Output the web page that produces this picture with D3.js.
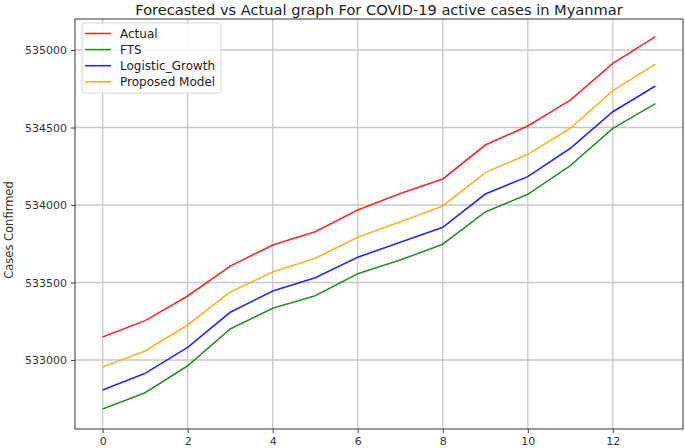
<!DOCTYPE html>
<html>
<head>
  <meta charset="utf-8">
  <script src="https://d3js.org/d3.v7.min.js"></script>
  <style>
    body { margin: 0; background: #fff; }
    text { font-family: "DejaVu Sans", sans-serif; }
  </style>
</head>
<body>
  <script>
    // data
    var days = [0, 1, 2, 3, 4, 5, 6, 7, 8, 9, 10, 11, 12, 13];
    var actual = [533148, 533254, 533413, 533606, 533742, 533828, 533968, 534075, 534168, 534387, 534510, 534677, 534914, 535086];
    var fts = [532684, 532789, 532963, 533200, 533334, 533415, 533557, 533645, 533747, 533955, 534069, 534254, 534495, 534654];
    var logistic = [532806, 532914, 533082, 533308, 533445, 533531, 533663, 533759, 533856, 534071, 534183, 534366, 534602, 534768];
    var proposed = [532955, 533058, 533226, 533439, 533568, 533656, 533792, 533892, 533994, 534209, 534327, 534495, 534738, 534908];
    var xTicks = [0, 2, 4, 6, 8, 10, 12];
    var yTicks = [533000, 533500, 534000, 534500, 535000];

    var series = [
      {name: "Actual", values: actual, color: "#ff0000"},
      {name: "FTS", values: fts, color: "#008000"},
      {name: "Logistic_Growth", values: logistic, color: "#0000ff"},
      {name: "Proposed Model", values: proposed, color: "#ffa500"}
    ];

    var w = 685, h = 448;
    // plot box (window.top is read-only, so keep these in an object)
    var box = {l: 75, r: 683, t: 19, b: 429};
    var svg = d3.select("body").append("svg").attr("width", w).attr("height", h);

    var x = d3.scaleLinear().domain([-0.65, 13.65]).range([box.l, box.r]);
    var y = d3.scaleLinear().domain([532555, 535200]).range([box.b, box.t]);

    // grid
    var grid = svg.append("g").attr("stroke", "#c8c8c8").attr("stroke-width", 1.3);
    grid.selectAll(".gx").data(xTicks).enter().append("line")
      .attr("x1", d => x(d)).attr("x2", d => x(d)).attr("y1", box.t).attr("y2", box.b);
    grid.selectAll(".gy").data(yTicks).enter().append("line")
      .attr("x1", box.l).attr("x2", box.r).attr("y1", d => y(d)).attr("y2", d => y(d));

    // lines
    var line = d3.line().x((d, i) => x(days[i])).y(d => y(d));
    svg.selectAll(".series").data(series).enter().append("path")
      .attr("fill", "none").attr("stroke", d => d.color).attr("stroke-width", 1.6)
      .attr("stroke-opacity", 0.85)
      .attr("d", d => line(d.values));

    // axes
    var xAxis = d3.axisBottom(x).tickValues(xTicks).tickSize(4).tickPadding(4);
    var yAxis = d3.axisLeft(y).tickValues(yTicks).tickSize(4).tickPadding(4).tickFormat(d3.format("d"));
    var gx = svg.append("g").attr("transform", "translate(0," + box.b + ")").call(xAxis);
    var gy = svg.append("g").attr("transform", "translate(" + box.l + ",0)").call(yAxis);
    [gx, gy].forEach(function(g) {
      g.select(".domain").remove();
      g.selectAll("line").attr("stroke", "#444");
      g.selectAll("text").attr("font-size", 11).attr("fill", "#333")
        .style("font-family", "DejaVu Sans, sans-serif");
    });

    // frame
    svg.append("rect").attr("x", box.l).attr("y", box.t).attr("width", box.r - box.l).attr("height", box.b - box.t)
      .attr("fill", "none").attr("stroke", "#333").attr("stroke-width", 1);

    // title + label
    svg.append("text").attr("x", (box.l + box.r) / 2).attr("y", 15).attr("text-anchor", "middle")
      .attr("font-size", 14.6).attr("fill", "#222")
      .text("Forecasted vs Actual graph For COVID-19 active cases in Myanmar");
    svg.append("text").attr("transform", "translate(13," + ((box.t + box.b) / 2 + 6) + ") rotate(-90)")
      .attr("text-anchor", "middle").attr("font-size", 11.5).attr("fill", "#333")
      .text("Cases Confirmed");

    // legend
    var lg = svg.append("g").attr("transform", "translate(82,23)");
    lg.append("rect").attr("width", 139).attr("height", 70).attr("rx", 3)
      .attr("fill", "#fff").attr("fill-opacity", 0.85).attr("stroke", "#d6d6d6");
    var items = lg.selectAll(".item").data(series).enter().append("g")
      .attr("transform", (d, i) => "translate(0," + (10.5 + i * 16.1) + ")");
    items.append("line").attr("x1", 3).attr("x2", 29).attr("stroke", d => d.color)
      .attr("stroke-width", 1.6).attr("stroke-opacity", 0.85);
    items.append("text").attr("x", 38).attr("y", 4.5).attr("font-size", 12).attr("fill", "#222")
      .text(d => d.name);
  </script>
</body>
</html>
